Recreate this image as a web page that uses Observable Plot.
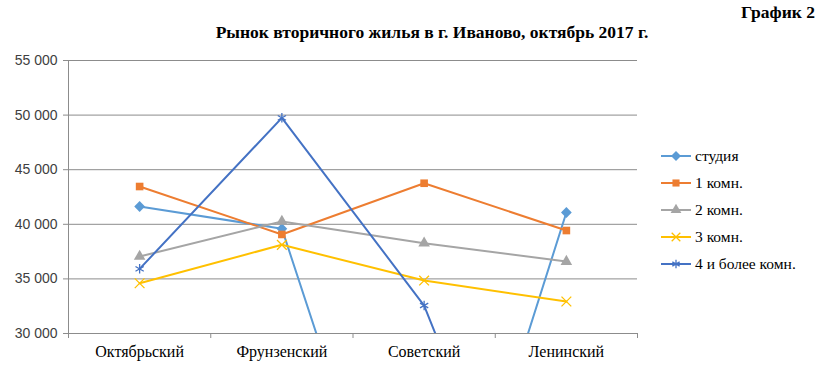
<!DOCTYPE html>
<html><head><meta charset="utf-8">
<script src="https://cdn.jsdelivr.net/npm/d3@7"></script>
<script src="https://cdn.jsdelivr.net/npm/@observablehq/plot@0.6"></script>
<style>
body{margin:0;background:#fff;}
#wrap{position:relative;width:834px;height:377px;font-family:"Liberation Serif","Times New Roman",serif;color:#000;}
#num{position:absolute;right:19px;top:2px;font-weight:bold;font-size:17.5px;}
#title{position:absolute;left:0;width:864px;text-align:center;top:22px;font-weight:bold;font-size:17.5px;}
#chart{position:absolute;left:0;top:45px;}
#legend{position:absolute;left:660px;top:142px;font-size:15.5px;}
.li{height:27.2px;display:flex;align-items:center;}
.li svg{margin-right:3px;}
</style></head>
<body><div id="wrap">
<div id="num">График 2</div>
<div id="title">Рынок вторичного жилья в г. Иваново, октябрь 2017 г.</div>
<div id="chart"></div>
<div id="legend"></div>
</div>
<script>
const districts = ["Октябрьский","Фрунзенский","Советский","Ленинский"];
const seriesNames = ["студия","1 комн.","2 комн.","3 комн.","4 и более комн."];
const studio = [41630, 39600, 0, 41080];
const room1 = [43460, 39070, 43760, 39430];
const room2 = [37050, 40260, 38270, 36590];
const room3 = [34600, 38120, 34850, 32930];
const room4 = [35920, 49750, 32560, 0];
const yTicks = [30000, 35000, 40000, 45000, 50000, 55000];

const colors = ["#5B9BD5","#ED7D31","#A5A5A5","#FFC000","#4472C4"];
const filled = [true,true,true,false,false];
const allValues = [studio, room1, room2, room3, room4];

const squareDiamond = {draw(ctx, size) {const r = Math.sqrt(size / 2); ctx.moveTo(0, -r); ctx.lineTo(r, 0); ctx.lineTo(0, r); ctx.lineTo(-r, 0); ctx.closePath();}};
const symbols = [squareDiamond, d3.symbolSquare, d3.symbolTriangle, d3.symbolTimes, d3.symbolAsterisk];

const rows = [];
seriesNames.forEach((s, si) => allValues[si].forEach((v, i) => rows.push({series: s, idx: i, district: districts[i], value: v, filled: filled[si]})));

const fmt = d => d3.format(",")(d).replace(/,/g, " ");
const bounds = d3.range(districts.length + 1).map(i => i - 0.5);

const chart = Plot.plot({
  width: 834, height: 332,
  marginLeft: 68, marginRight: 197, marginTop: 15, marginBottom: 44,
  x: {type: "linear", domain: [-0.5, districts.length - 0.5]},
  y: {domain: [30000, 55000]},
  color: {domain: seriesNames, range: colors},
  symbol: {domain: seriesNames, range: symbols},
  style: {background: "#fff"},
  marks: [
    Plot.gridY({ticks: yTicks, stroke: "#8c8c8c", strokeOpacity: 1, strokeWidth: 1}),
    Plot.frame({anchor: "left", stroke: "#8c8c8c"}),
    Plot.axisY({ticks: yTicks, tickSize: 5, tickPadding: 6, tickFormat: fmt, stroke: "#8c8c8c", fill: "#404040", fontSize: 14, fontFamily: "Liberation Sans, Arial, sans-serif", label: null}),
    Plot.axisX({ticks: bounds, tickSize: 5, tickFormat: () => "", stroke: "#8c8c8c", label: null}),
    Plot.axisX({ticks: districts.map((d, i) => i), tickSize: 0, tickPadding: 12, tickFormat: i => districts[i], fill: "#000", fontSize: 16, fontFamily: "Liberation Serif, serif", label: null}),
    Plot.line(rows, {x: "idx", y: "value", z: "series", stroke: "series", strokeWidth: 2, clip: true}),
    Plot.dot(rows.filter(d => d.filled), {x: "idx", y: "value", symbol: "series", fill: "series", stroke: "none", r: 4.3, clip: true}),
    Plot.dot(rows.filter(d => !d.filled), {x: "idx", y: "value", symbol: "series", stroke: "series", fill: "none", strokeWidth: 1.3, r: 4.5, clip: true})
  ]
});
document.getElementById("chart").appendChild(chart);

const legend = d3.select("#legend");
seriesNames.forEach((s, i) => {
  const item = legend.append("div").attr("class", "li");
  const svg = item.append("svg").attr("width", 32).attr("height", 14);
  svg.append("line").attr("x1", 1).attr("x2", 31).attr("y1", 7).attr("y2", 7).attr("stroke", colors[i]).attr("stroke-width", 2);
  const p = svg.append("path").attr("transform", "translate(16,7)").attr("d", d3.symbol(symbols[i], 4 * 4 * Math.PI)());
  if (filled[i]) p.attr("fill", colors[i]); else p.attr("fill", "none").attr("stroke", colors[i]).attr("stroke-width", 1.3);
  item.append("span").text(s);
});
</script>
</body></html>
